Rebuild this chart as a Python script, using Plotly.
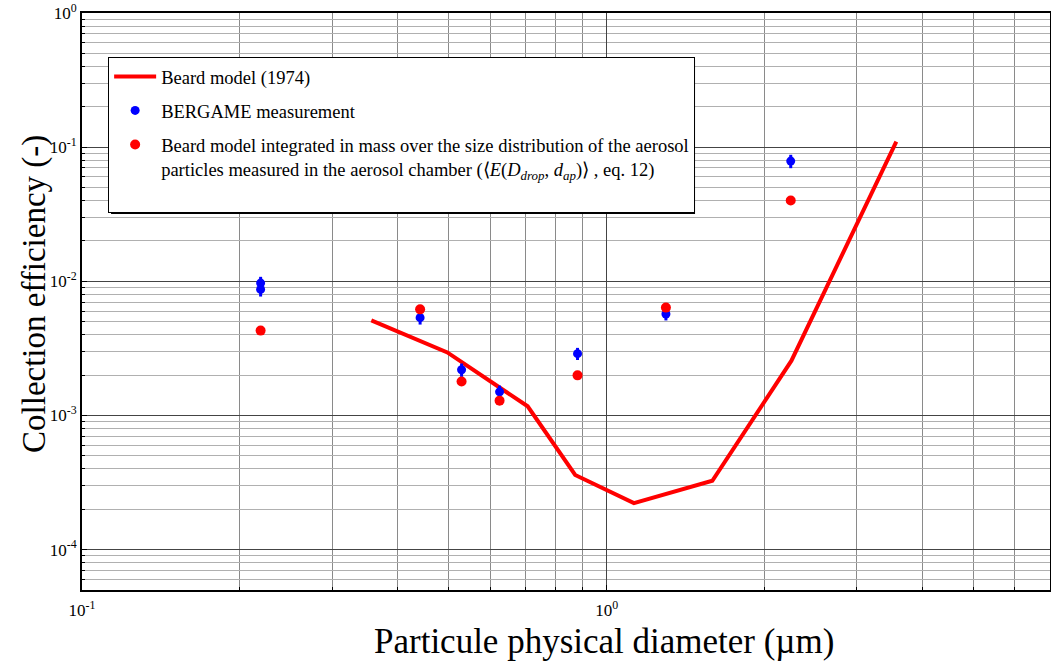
import plotly.graph_objects as go

# Beard model (1974) curve
beard_x = [0.356, 0.497, 0.707, 0.871, 1.127, 1.59, 2.25, 3.565]
beard_y = [5.12e-3, 2.95e-3, 1.17e-3, 3.6e-4, 2.22e-4, 3.26e-4, 2.56e-3, 0.110]

# BERGAME measurements
meas_x = [0.219, 0.219, 0.441, 0.529, 0.625, 0.880, 1.297, 2.243]
meas_y = [0.0097, 0.0087, 0.00536, 0.00219, 0.00150, 0.00289, 0.00571, 0.0787]
meas_err = [0.0011, 0.0010, 0.0006, 0.00025, 0.00017, 0.0003, 0.0006, 0.009]

# Beard model integrated over aerosol size distribution
integ_x = [0.219, 0.441, 0.529, 0.625, 0.880, 1.297, 2.243]
integ_y = [0.00429, 0.00618, 0.00179, 0.00129, 0.00199, 0.00637, 0.0400]

# Tick labels
x_tick_vals = [0.1, 1]
x_tick_text = ["10<sup>-1</sup>", "10<sup>0</sup>"]
y_tick_vals = [1e-4, 1e-3, 1e-2, 1e-1, 1]
y_tick_text = ["10<sup>-4</sup>", "10<sup>-3</sup>", "10<sup>-2</sup>", "10<sup>-1</sup>", "10<sup>0</sup>"]

x_minor = [m * 10.0 ** e for e in (-1, 0) for m in range(2, 10) if m * 10.0 ** e <= 7]
y_minor = [m * 10.0 ** e for e in (-5, -4, -3, -2, -1) for m in range(2, 10) if m * 10.0 ** e >= 5e-5]

FONT = "Liberation Serif"

fig = go.Figure()
fig.add_trace(go.Scatter(
    x=beard_x, y=beard_y, mode="lines", name="Beard model (1974)",
    line=dict(color="#ff0000", width=4), legendgroup="a"))
fig.add_trace(go.Scatter(
    x=meas_x, y=meas_y, mode="markers", name="BERGAME measurement",
    marker=dict(color="#0000ff", size=9),
    error_y=dict(type="data", array=meas_err, color="#0000ff", thickness=3, width=0),
    legendgroup="b"))
fig.add_trace(go.Scatter(
    x=integ_x, y=integ_y, mode="markers",
    name=("Beard model integrated in mass over the size distribution of the aerosol<br>"
          "particles measured in the aerosol chamber (⟨<i>E</i>(<i>D</i><sub><i>drop</i></sub>, "
          "<i>d</i><sub><i>ap</i></sub>)⟩ , eq. 12)<br> "),
    marker=dict(color="#ff0000", size=10), legendgroup="c"))

fig.update_layout(
    width=1051, height=664,
    margin=dict(l=82, r=1, t=13, b=74),
    paper_bgcolor="white", plot_bgcolor="white",
    font=dict(family=FONT, color="black", size=16),
    showlegend=True,
    legend=dict(x=0.027, y=0.924, xanchor="left", yanchor="top",
                bgcolor="white", bordercolor="black", borderwidth=1,
                font=dict(family=FONT, size=18.5, color="black"),
                traceorder="grouped", tracegroupgap=7, itemwidth=42, valign="top"),
    shapes=[
        # drop shadow of the legend box
        dict(type="rect", xref="paper", yref="paper", x0=0.0300, x1=0.6333,
             y0=0.6516, y1=0.9185, fillcolor="black", line=dict(width=0), layer="above"),
    ],
    annotations=[
        dict(text="Particule physical diameter (µm)", xref="paper", yref="paper",
             x=0.539, y=-0.090, xanchor="center", yanchor="middle", showarrow=False,
             font=dict(family=FONT, size=35, color="black")),
        dict(text="Collection efficiency (-)", xref="paper", yref="paper",
             x=-0.0486, y=0.513, xanchor="center", yanchor="middle", showarrow=False,
             textangle=-90, font=dict(family=FONT, size=33, color="black")),
    ],
)
fig.update_xaxes(
    type="log", range=[-1, 0.845], tickvals=x_tick_vals, ticktext=x_tick_text,
    automargin=False, ticklabelstandoff=4,
    showline=True, linecolor="black", linewidth=2, mirror=True,
    ticks="inside", ticklen=5, tickcolor="black",
    showgrid=True, gridcolor="#444", gridwidth=1,
    minor=dict(tickvals=x_minor, showgrid=True, gridcolor="#8a8a8a", gridwidth=1,
               ticks="inside", ticklen=3, tickcolor="black"),
    tickfont=dict(family=FONT, size=17),
    zeroline=False)
fig.update_yaxes(
    type="log", range=[-4.301, 0], tickvals=y_tick_vals, ticktext=y_tick_text,
    automargin=False,
    showline=True, linecolor="black", linewidth=2, mirror=True,
    ticks="inside", ticklen=5, tickcolor="black",
    showgrid=True, gridcolor="#444", gridwidth=1,
    minor=dict(tickvals=y_minor, showgrid=True, gridcolor="#b0b0b0", gridwidth=1,
               ticks="inside", ticklen=3, tickcolor="black"),
    tickfont=dict(family=FONT, size=17),
    zeroline=False)

fig.write_html("out.html", config={"displayModeBar": False},
               post_script="document.body.style.margin='0';")
